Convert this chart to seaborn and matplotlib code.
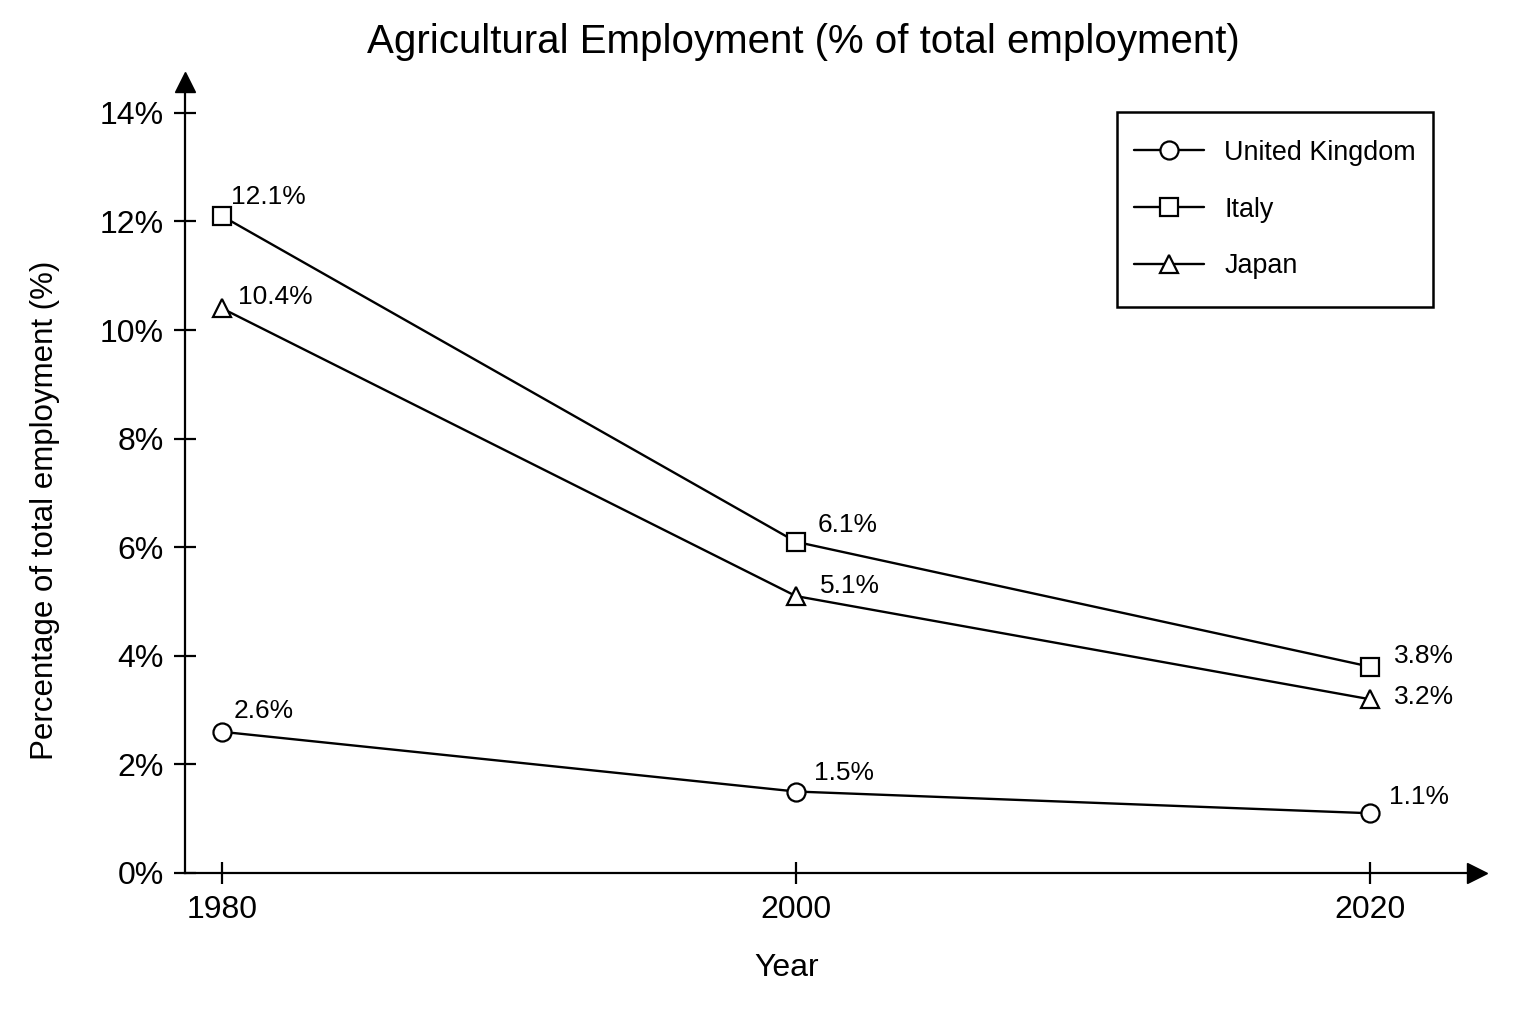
import matplotlib
matplotlib.use('Agg')
import matplotlib.pyplot as plt
import matplotlib.patches as mpatches
import seaborn as sns
import pandas as pd

# Data
years = [1980, 2000, 2020]
countries = ['United Kingdom', 'Italy', 'Japan']
uk_values = [2.6, 1.5, 1.1]
italy_values = [12.1, 6.1, 3.8]
japan_values = [10.4, 5.1, 3.2]
y_ticks = [0, 2, 4, 6, 8, 10, 12, 14]

df = pd.DataFrame({
    'Year': years * 3,
    'Country': [c for c in countries for _ in years],
    'Value': uk_values + italy_values + japan_values,
})

sns.set_theme(style='white', rc={'text.color': 'black', 'axes.labelcolor': 'black',
                                 'xtick.color': 'black', 'ytick.color': 'black'})
plt.rcParams['font.family'] = ['Liberation Sans', 'DejaVu Sans']

fig = plt.figure(figsize=(15.36, 10.24), dpi=100)
ax = fig.add_axes([0.1204, 0.1475, 0.8411, 0.7725])

markers = {'United Kingdom': 'o', 'Italy': 's', 'Japan': '^'}
for country in countries:
    sub = df[df['Country'] == country]
    sns.lineplot(data=sub, x='Year', y='Value', ax=ax, color='black',
                 marker=markers[country], markersize=13, markerfacecolor='white',
                 markeredgecolor='black', markeredgewidth=1.6, linewidth=1.7,
                 label=country)

# label offsets in pixels (dx right, dy up), per country and point
label_offsets = {
    'United Kingdom': [(12, 21), (18, 19), (19, 16)],
    'Italy': [(9, 19), (22, 17), (24, 11)],
    'Japan': [(16, 11), (24, 10), (24, 2)],
}
for country in countries:
    sub = df[df['Country'] == country].reset_index(drop=True)
    for i, row in sub.iterrows():
        dx, dy = label_offsets[country][i]
        ax.annotate(f"{row['Value']:.1f}%", (row['Year'], row['Value']),
                    xytext=(dx * 0.72, dy * 0.72), textcoords='offset points',
                    ha='left', va='center', fontsize=19)

ax.set_xlim(1978.71, 2023.73)
ax.set_ylim(0, 14.57)
ax.set_xticks(years)
ax.set_yticks(y_ticks)
ax.set_yticklabels([f'{t}%' for t in y_ticks])
ax.tick_params(axis='both', labelsize=23, direction='inout', length=16,
               width=1.6, color='black', left=True, bottom=True)
ax.tick_params(axis='x', pad=8)
ax.tick_params(axis='y', pad=7)

for side in ['top', 'right']:
    ax.spines[side].set_visible(False)
for side in ['left', 'bottom']:
    ax.spines[side].set_color('black')
    ax.spines[side].set_linewidth(1.6)

# arrow heads on the axes
ax.plot(1, 0, '>', color='black', markersize=14, transform=ax.transAxes, clip_on=False)
ax.plot(0, 1, '^', color='black', markersize=14, transform=ax.transAxes, clip_on=False)

ax.set_xlabel('Year', fontsize=23)
ax.set_ylabel('Percentage of total employment (%)', fontsize=22.5)
ax.xaxis.set_label_coords(0.466, -0.101)
ax.yaxis.set_label_coords(-0.0967, 0.458)
fig.text(0.523, 0.959, 'Agricultural Employment (% of total employment)',
         fontsize=29, ha='center', va='center')

leg = ax.legend(loc='upper right', bbox_to_anchor=(0.9528, 0.9267), fontsize=19.4,
                frameon=False, handlelength=2.58, labelspacing=1.14,
                handletextpad=0.76, borderpad=0, borderaxespad=0)
leg.set_zorder(6)

# square frame around the legend, more padding top/bottom than sides
fig.canvas.draw()
bb = leg.get_window_extent()
pad_x, pad_y = 17, 28
x0, y0 = fig.transFigure.inverted().transform((bb.x0 - pad_x, bb.y0 - pad_y))
x1, y1 = fig.transFigure.inverted().transform((bb.x1 + pad_x, bb.y1 + pad_y))
frame = mpatches.Rectangle((x0, y0), x1 - x0, y1 - y0, transform=fig.transFigure,
                           facecolor='white', edgecolor='black', linewidth=1.8,
                           zorder=5, clip_on=False)
ax.add_artist(frame)

fig.savefig('out.png', dpi=100, facecolor='white')
